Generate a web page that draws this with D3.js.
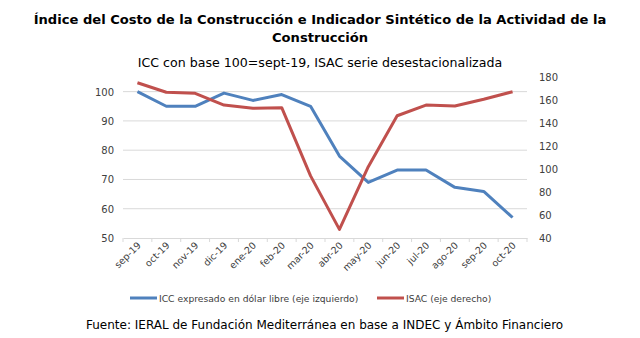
<!DOCTYPE html>
<html><head><meta charset="utf-8">
<script src="https://cdn.jsdelivr.net/npm/d3@7"></script>
<style>body{margin:0;background:#fff}svg{display:block}text{font-family:"DejaVu Sans",Verdana,sans-serif}</style>
</head><body><svg id="c" width="640" height="338"></svg>
<script>
const categories=["sep-19","oct-19","nov-19","dic-19","ene-20","feb-20","mar-20","abr-20","may-20","jun-20","jul-20","ago-20","sep-20","oct-20"];
const icc=[100,95,95,99.5,97,99,95,78,69,73.2,73.2,67.3,65.9,57];
const isac=[175,166.7,165.8,155.6,152.8,153.3,94,47.5,102,146.3,155.6,154.8,160.6,167.2];
const leftTicks=[50,60,70,80,90,100];
const rightTicks=[40,60,80,100,120,140,160,180];
const svg=d3.select("#c");
const m={l:123,r:527,t:77,b:238};
const x=d3.scaleBand().domain(categories).range([m.l,m.r]);
const yL=d3.scaleLinear().domain([50,105]).range([m.b,m.t]);
const yR=d3.scaleLinear().domain([40,180]).range([m.b,m.t]);
const cx=d=>x(d)+x.bandwidth()/2;
// grid
svg.append("g").selectAll("line").data(leftTicks.slice(1)).join("line")
 .attr("x1",m.l).attr("x2",m.r).attr("y1",d=>yL(d)).attr("y2",d=>yL(d)).attr("stroke","#d9d9d9");
// axes
const ax=svg.append("g").attr("transform",`translate(0,${m.b})`).call(d3.axisBottom(x).tickSize(0).tickFormat(""));
ax.select(".domain").attr("stroke","#d9d9d9");
svg.append("g").selectAll("line").data(d3.range(categories.length+1)).join("line")
 .attr("x1",i=>m.l+i*x.step()).attr("x2",i=>m.l+i*x.step()).attr("y1",m.b).attr("y2",m.b+4).attr("stroke","#d9d9d9");
svg.append("g").selectAll("text").data(categories).join("text")
 .attr("transform",d=>`translate(${cx(d)+4},${m.b+8}) rotate(-45)`).attr("text-anchor","end")
 .attr("font-size",9.5).attr("fill","#404040").text(d=>d);
svg.append("g").selectAll("text").data(leftTicks).join("text")
 .attr("x",114).attr("y",d=>yL(d)+4).attr("text-anchor","end").attr("font-size",10).attr("fill","#404040").text(d=>d);
svg.append("g").selectAll("text").data(rightTicks).join("text")
 .attr("x",539).attr("y",d=>yR(d)+4).attr("text-anchor","start").attr("font-size",10).attr("fill","#404040").text(d=>d);
// lines
const lineL=d3.line().x((d,i)=>cx(categories[i])).y(d=>yL(d));
const lineR=d3.line().x((d,i)=>cx(categories[i])).y(d=>yR(d));
svg.append("path").datum(icc).attr("d",lineL).attr("fill","none").attr("stroke","#4f81bd").attr("stroke-width",3).attr("stroke-linejoin","round");
svg.append("path").datum(isac).attr("d",lineR).attr("fill","none").attr("stroke","#c0504d").attr("stroke-width",3).attr("stroke-linejoin","round");
// titles
const t=svg.append("g").attr("text-anchor","middle");
t.append("text").attr("x",320).attr("y",24).attr("font-size",13.1).attr("font-weight","bold").attr("fill","#000").text("Índice del Costo de la Construcción e Indicador Sintético de la Actividad de la");
t.append("text").attr("x",320).attr("y",42).attr("font-size",13.1).attr("font-weight","bold").attr("fill","#000").text("Construcción");
t.append("text").attr("x",320).attr("y",67).attr("font-size",12.6).attr("fill","#000").text("ICC con base 100=sept-19, ISAC serie desestacionalizada");
// legend
const leg=[{n:"ICC expresado en dólar libre (eje izquierdo)",c:"#4f81bd",x:130},{n:"ISAC (eje derecho)",c:"#c0504d",x:377}];
const lg=svg.append("g").selectAll("g").data(leg).join("g");
lg.append("line").attr("x1",d=>d.x).attr("x2",d=>d.x+27).attr("y1",298).attr("y2",298).attr("stroke",d=>d.c).attr("stroke-width",3);
lg.append("text").attr("x",d=>d.x+29).attr("y",302).attr("font-size",9.2).attr("fill","#404040").text(d=>d.n);
svg.append("text").attr("x",86).attr("y",329).attr("font-size",12).attr("fill","#000").text("Fuente: IERAL de Fundación Mediterránea en base a INDEC y Ámbito Financiero");
</script></body></html>
